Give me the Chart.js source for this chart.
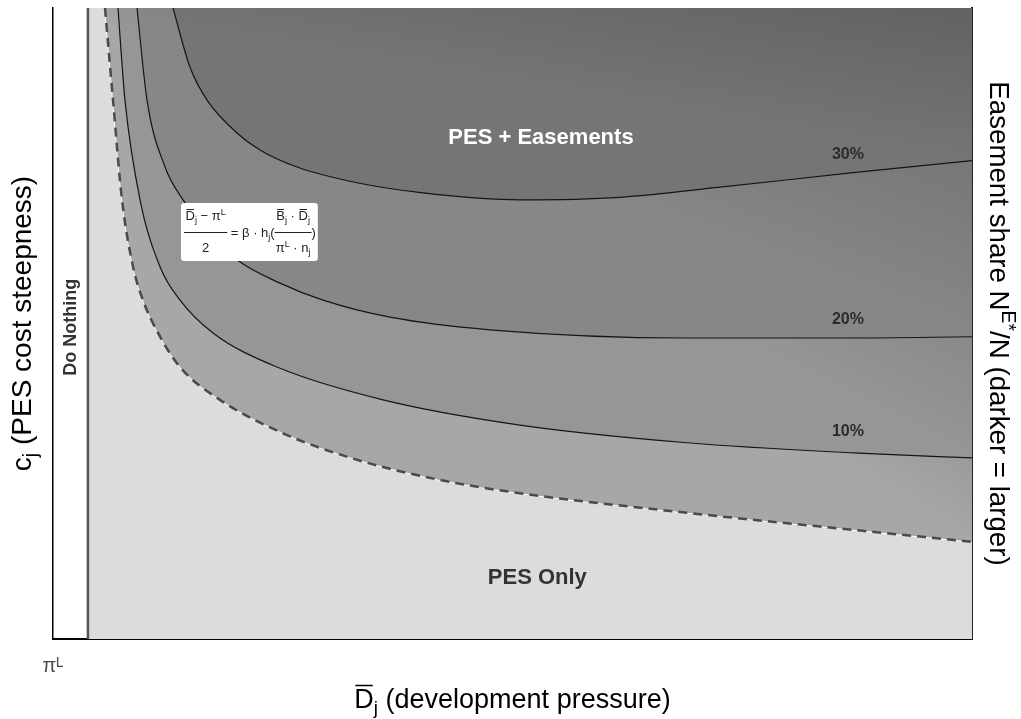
<!DOCTYPE html>
<html>
<head>
<meta charset="utf-8">
<script src="https://cdn.jsdelivr.net/npm/chart.js@4.4.1/dist/chart.umd.min.js"></script>
<style>
  html, body { margin: 0; padding: 0; background: #fff; }
  #miGrafica { display: block; }
</style>
</head>
<body>
<canvas id="miGrafica" width="1021" height="719"></canvas>
<script>
// eje x: presion de desarrollo (0 = pi^L), eje y: c_j, ambos en unidades 0..100
const limiteNoHacer = 3.8; // D_j donde empieza la region PES

// frontera PES / PES + servidumbres (linea discontinua)
const umbralX = [5.66, 6.53, 7.51, 8.71, 9.79, 11.43, 13.82, 18.17, 25.03, 33.08, 42.11, 50.82, 68.99, 87.05, 100];
const umbralY = [100, 85.4, 69.6, 59.0, 53.7, 48.5, 43.1, 37.9, 32.6, 28.4, 25.2, 23.1, 20.0, 17.3, 15.4];

// curvas de nivel de la parte de servidumbres
const c10X = [7.07, 7.83, 9.47, 11.64, 13.82, 17.41, 24.37, 35.91, 50.82, 68.99, 87.05, 100];
const c10Y = [100, 85.4, 69.6, 59.0, 53.7, 48.5, 43.1, 37.9, 33.9, 31.1, 29.5, 28.7];

const c20X = [9.14, 10.23, 12.19, 14.15, 17.08, 20.02, 24.70, 29.38, 36.67, 47.55, 68.99, 87.05, 100];
const c20Y = [100, 85.4, 74.8, 69.6, 64.3, 60.1, 56.4, 53.7, 51.0, 49.0, 47.7, 47.7, 47.9];

const c30X = [13.06, 14.91, 16.76, 20.02, 22.52, 26.55, 33.08, 40.26, 50.82, 61.70, 72.58, 87.05, 100];
const c30Y = [100, 90.6, 85.4, 80.2, 77.5, 74.8, 72.3, 70.7, 69.6, 70.0, 71.6, 73.9, 75.8];

const etiquetasNivel = ['10%', '20%', '30%'];
const etiquetaTick = 'π\u1D38';

const FUENTE = "'Liberation Sans', Arial, 'DejaVu Sans', sans-serif";

function unir(xs, ys) {
    return xs.map((x, i) => ({ x: x, y: ys[i] }));
}

// degradado entre dos puntos dados en unidades de datos
function degradado(a, b, c0, c1) {
    return function(context) {
        const chart = context.chart;
        const sx = chart.scales.x, sy = chart.scales.y;
        if (!chart.chartArea || !sx || !sy) return c0;
        const g = chart.ctx.createLinearGradient(
            sx.getPixelForValue(a[0]), sy.getPixelForValue(a[1]),
            sx.getPixelForValue(b[0]), sy.getPixelForValue(b[1]));
        g.addColorStop(0, c0);
        g.addColorStop(1, c1);
        return g;
    };
}

function medirPartes(ctx, partes, tam, peso) {
    let w = 0;
    partes.forEach(p => {
        const s = (p.sub || p.sup) ? tam * 0.7 : tam;
        ctx.font = peso + ' ' + s + 'px ' + FUENTE;
        p._w = ctx.measureText(p.t).width;
        p._s = s;
        w += p._w;
    });
    return w;
}

// texto con subindices, superindices y barras
function dibujarPartes(ctx, partes, x, y, tam, peso, color, alinear) {
    const total = medirPartes(ctx, partes, tam, peso);
    let cx = alinear === 'center' ? x - total / 2 : (alinear === 'right' ? x - total : x);
    ctx.fillStyle = color;
    ctx.strokeStyle = color;
    ctx.textAlign = 'left';
    ctx.textBaseline = 'alphabetic';
    partes.forEach(p => {
        ctx.font = peso + ' ' + p._s + 'px ' + FUENTE;
        const dy = p.sub ? tam * 0.22 : (p.sup ? -tam * 0.42 : 0);
        ctx.fillText(p.t, cx, y + dy);
        if (p.barra) {
            const yb = Math.round(y + dy - p._s * 0.86) + 0.5;
            ctx.lineWidth = Math.max(1, tam / 18);
            ctx.beginPath();
            ctx.moveTo(cx + 1, yb);
            ctx.lineTo(cx + p._w - 1, yb);
            ctx.stroke();
        }
        cx += p._w;
    });
    return total;
}

const anotaciones = {
    id: 'anotaciones',
    afterDatasetsDraw(chart) {
        const ctx = chart.ctx;
        const sx = chart.scales.x, sy = chart.scales.y;
        const X = v => sx.getPixelForValue(v);
        const Y = v => sy.getPixelForValue(v);
        ctx.save();
        ctx.textAlign = 'center';
        ctx.textBaseline = 'middle';

        ctx.font = 'bold 22px ' + FUENTE;
        ctx.fillStyle = '#ffffff';
        ctx.fillText('PES + Easements', X(53.1), Y(79.4));
        ctx.fillStyle = '#333333';
        ctx.fillText('PES Only', X(52.7), Y(9.6));

        ctx.font = 'bold 16px ' + FUENTE;
        ctx.fillStyle = '#2b2b2b';
        const yNivel = [32.8, 50.6, 76.7];
        etiquetasNivel.forEach((t, i) => ctx.fillText(t, X(86.5), Y(yNivel[i])));

        ctx.save();
        ctx.translate(X(1.95), Y(49.4));
        ctx.rotate(-Math.PI / 2);
        ctx.font = 'bold 18px ' + FUENTE;
        ctx.fillStyle = '#333333';
        ctx.fillText('Do Nothing', 0, 0);
        ctx.restore();

        // caja con la condicion de umbral
        const tam = 13;
        const numL = [{ t: 'D', barra: true }, { t: 'j', sub: true }, { t: ' − π' }, { t: 'L', sup: true }];
        const denL = [{ t: '2' }];
        const medio = [{ t: ' = β · h' }, { t: 'j', sub: true }, { t: '(' }];
        const numR = [{ t: 'B', barra: true }, { t: 'j', sub: true }, { t: ' · ' }, { t: 'D', barra: true }, { t: 'j', sub: true }];
        const denR = [{ t: 'π' }, { t: 'L', sup: true }, { t: ' · n' }, { t: 'j', sub: true }];
        const cierre = [{ t: ')' }];
        const wL = Math.max(medirPartes(ctx, numL, tam, 'normal'), medirPartes(ctx, denL, tam, 'normal')) + 3;
        const wM = medirPartes(ctx, medio, tam, 'normal');
        const wR = Math.max(medirPartes(ctx, numR, tam, 'normal'), medirPartes(ctx, denR, tam, 'normal')) + 2;
        const wC = medirPartes(ctx, cierre, tam, 'normal');
        const bx = Math.round(X(13.9)), by = Math.round(Y(69.1));
        const bw = wL + wM + wR + wC + 5, bh = 58;
        ctx.fillStyle = '#ffffff';
        ctx.beginPath();
        ctx.roundRect(bx, by, bw, bh, 3);
        ctx.fill();

        const col = '#222222';
        let cur = bx + 3;
        const yBar = by + 29.5;
        dibujarPartes(ctx, numL, cur + wL / 2, by + 17, tam, 'normal', col, 'center');
        dibujarPartes(ctx, denL, cur + wL / 2, by + 49, tam, 'normal', col, 'center');
        ctx.lineWidth = 1;
        ctx.strokeStyle = col;
        ctx.beginPath(); ctx.moveTo(cur, yBar); ctx.lineTo(cur + wL, yBar); ctx.stroke();
        cur += wL;
        dibujarPartes(ctx, medio, cur, by + 34, tam, 'normal', col, 'left');
        cur += wM;
        dibujarPartes(ctx, numR, cur + wR / 2, by + 17, tam, 'normal', col, 'center');
        dibujarPartes(ctx, denR, cur + wR / 2, by + 49, tam, 'normal', col, 'center');
        ctx.beginPath(); ctx.moveTo(cur, yBar); ctx.lineTo(cur + wR, yBar); ctx.stroke();
        cur += wR;
        dibujarPartes(ctx, cierre, cur, by + 34, tam, 'normal', col, 'left');
        ctx.restore();
    },
    afterDraw(chart) {
        const ctx = chart.ctx;
        const a = chart.chartArea;
        const cy = (a.top + a.bottom) / 2;
        ctx.save();
        // titulo eje X
        dibujarPartes(ctx, [{ t: 'D', barra: true }, { t: 'j', sub: true }, { t: ' (development pressure)' }],
            (a.left + a.right) / 2, 708, 27, 'normal', '#000', 'center');
        // titulo eje Y
        ctx.save();
        ctx.translate(31, cy);
        ctx.rotate(-Math.PI / 2);
        dibujarPartes(ctx, [{ t: 'c' }, { t: 'j', sub: true }, { t: ' (PES cost steepness)' }], 0, 0, 28, 'normal', '#000', 'center');
        ctx.restore();
        // titulo eje derecho
        ctx.save();
        ctx.translate(990, cy);
        ctx.rotate(Math.PI / 2);
        dibujarPartes(ctx, [{ t: 'Easement share N' }, { t: 'E*', sup: true }, { t: '/N (darker = larger)' }], 0, 0, 27.7, 'normal', '#000', 'center');
        ctx.restore();
        ctx.restore();
    }
};

const curva = { pointRadius: 0, cubicInterpolationMode: 'monotone' };

new Chart(document.getElementById('miGrafica'), {
    type: 'line',
    data: {
        datasets: [
            {
                label: 'PES Only',
                data: unir([limiteNoHacer, 100], [100, 100]),
                fill: 'start',
                backgroundColor: '#dcdcdc',
                borderWidth: 0,
                pointRadius: 0,
                order: 10
            },
            {
                label: 'Do Nothing',
                data: unir([limiteNoHacer, limiteNoHacer], [0, 100]),
                borderColor: '#555555',
                borderWidth: 2.5,
                fill: false,
                pointRadius: 0,
                order: 9
            },
            Object.assign({
                label: 'borde',
                data: unir(umbralX, umbralY),
                borderColor: '#ffffff',
                borderWidth: 1.6,
                fill: false,
                order: 8
            }, curva),
            Object.assign({
                label: 'umbral',
                data: unir(umbralX, umbralY),
                borderColor: '#4a4a4a',
                borderWidth: 2.5,
                borderDash: [9, 6],
                fill: 'end',
                backgroundColor: degradado([98.7, 16.5], [102.3, 25.4], '#a7a7a7', '#9c9c9c'),
                order: 7
            }, curva),
            Object.assign({
                label: etiquetasNivel[0],
                data: unir(c10X, c10Y),
                borderColor: '#151515',
                borderWidth: 1.2,
                fill: 'end',
                backgroundColor: degradado([98.7, 30.0], [103.5, 43.9], '#969696', '#8a8a8a'),
                order: 6
            }, curva),
            Object.assign({
                label: etiquetasNivel[1],
                data: unir(c20X, c20Y),
                borderColor: '#151515',
                borderWidth: 1.2,
                fill: 'end',
                backgroundColor: degradado([98.7, 49.0], [104.4, 71.3], '#878787', '#787878'),
                order: 5
            }, curva),
            Object.assign({
                label: etiquetasNivel[2],
                data: unir(c30X, c30Y),
                borderColor: '#151515',
                borderWidth: 1.2,
                fill: 'end',
                backgroundColor: degradado([98.7, 75.9], [101.3, 98.3], '#757575', '#636363'),
                order: 4
            }, curva)
        ]
    },
    options: {
        responsive: false,
        animation: false,
        events: [],
        layout: { padding: { top: 8, left: 0, right: 0, bottom: 0 } },
        plugins: {
            legend: { display: false },
            tooltip: { enabled: false }
        },
        scales: {
            x: {
                type: 'linear',
                position: 'bottom',
                min: 0,
                max: 100,
                grid: { display: false, drawTicks: false },
                border: { display: true, color: '#000', width: 2 },
                afterBuildTicks: s => { s.ticks = [{ value: 0 }]; },
                ticks: {
                    padding: 15,
                    color: '#4d4d4d',
                    font: { family: FUENTE, size: 20 },
                    maxRotation: 0,
                    callback: () => etiquetaTick
                },
                afterFit: s => { s.height = 80; }
            },
            y: {
                type: 'linear',
                position: 'left',
                min: 0,
                max: 100,
                grid: { display: false, drawTicks: false },
                border: { display: true, color: '#000', width: 1.5 },
                ticks: { display: false },
                afterFit: s => { s.width = 53; }
            },
            y2: {
                type: 'linear',
                position: 'right',
                display: true,
                min: 0,
                max: 100,
                grid: { display: false, drawTicks: false },
                border: { display: true, color: '#222', width: 2 },
                ticks: { display: false },
                afterFit: s => { s.width = 49; }
            }
        }
    },
    plugins: [anotaciones]
});
</script>
</body>
</html>
